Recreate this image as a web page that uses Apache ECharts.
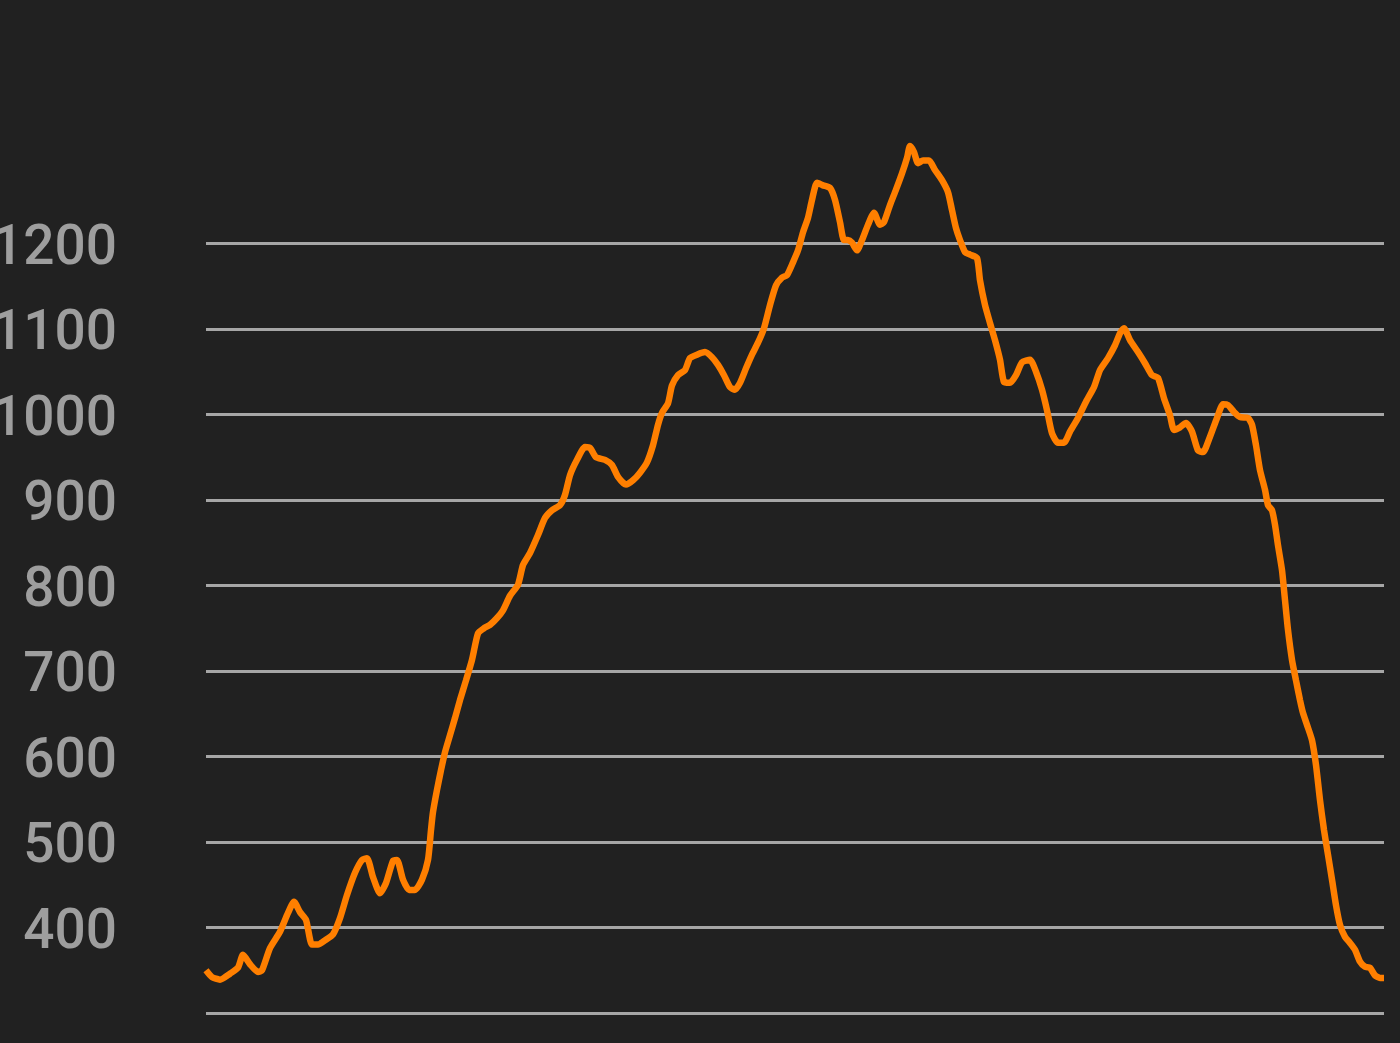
<!DOCTYPE html>
<html>
<head>
<meta charset="utf-8">
<script src="https://cdn.jsdelivr.net/npm/echarts@6/dist/echarts.min.js"></script>
<style>
html,body{margin:0;padding:0;background:#212121;}
#chart{width:1400px;height:1043px;}
</style>
</head>
<body>
<div id="chart"></div>
<script>
// positions along the track (horizontal offset units) and elevation values
const xs = [0,6,14,24,32,37,44,52,56,64,74,82,88,94,100,106,112,119,127,134,141,149,156,161,167,174,180,187,191,197,203,209,216,222,225,227,231,235,239,244,249,254,260,266,272,278,284,291,297,304,312,317,324,332,339,346,354,359,364,371,379,384,390,399,406,412,420,427,434,441,447,452,456,462,466,472,479,484,491,499,506,512,518,524,529,534,540,546,552,558,564,570,576,581,587,592,597,602,606,611,617,624,629,634,638,642,646,651,656,662,668,674,678,684,690,696,701,704,708,712,717,723,729,736,742,746,750,754,759,764,771,774,779,784,789,794,798,804,810,816,824,830,836,841,846,852,858,864,872,880,888,894,902,909,914,918,924,932,939,946,952,958,964,968,974,980,986,992,997,1004,1011,1017,1022,1028,1034,1042,1046,1050,1054,1059,1062,1066,1069,1072,1076,1079,1082,1086,1090,1094,1097,1101,1106,1110,1114,1118,1122,1126,1130,1134,1139,1144,1149,1154,1159,1164,1169,1174,1178];
const elevation = [350,342,339,346,353,368,357,348,350,376,395,417,430,418,409,380,380,385,392,411,438,464,479,481,459,440,452,478,479,456,444,444,456,479,514,535,561,584,605,625,645,666,689,713,744,750,754,762,771,788,801,824,838,859,879,888,894,906,929,947,962,961,950,947,941,927,918,923,932,944,964,988,1002,1013,1034,1046,1052,1066,1070,1073,1067,1058,1046,1032,1029,1037,1054,1070,1084,1101,1128,1151,1160,1163,1178,1192,1213,1230,1251,1271,1268,1265,1251,1225,1204,1204,1201,1192,1204,1222,1236,1222,1225,1245,1263,1282,1300,1314,1307,1294,1297,1297,1286,1274,1260,1239,1218,1204,1190,1187,1183,1157,1128,1107,1087,1064,1038,1037,1046,1061,1064,1050,1029,1005,978,967,967,980,996,1015,1032,1052,1066,1081,1095,1101,1087,1073,1060,1046,1043,1019,999,982,985,990,980,958,956,974,996,1012,1011,1003,997,996,988,964,935,912,894,888,871,847,818,783,748,713,689,666,651,637,619,590,549,514,485,456,426,403,389,382,374,360,354,353,344,341,341];
const yTicks = [300,400,500,600,700,800,900,1000,1100,1200,1300];

const chart = echarts.init(document.getElementById('chart'));
chart.setOption({
  backgroundColor: '#212121',
  animation: false,
  grid: {left: 206, right: 16, top: 158, bottom: 30, containLabel: false, outerBoundsMode: 'none'},
  xAxis: {
    type: 'value', min: xs[0], max: xs[xs.length-1], show: false
  },
  yAxis: {
    type: 'value',
    min: yTicks[0], max: yTicks[yTicks.length-1], interval: 100,
    axisLine: {show: false}, axisTick: {show: false},
    axisLabel: {
      color: '#9e9e9e', fontSize: 55, fontWeight: 500, fontFamily: 'Roboto', margin: 89,
      showMinLabel: false, showMaxLabel: false,
      formatter: v => '{t|' + v + '}',
      rich: {t: {color: '#9e9e9e', fontSize: 55, fontWeight: 500, fontFamily: 'Roboto', padding: [13, 0, 0, 0]}}
    },
    splitLine: {show: true, showMaxLine: false, lineStyle: {color: '#a6a6a6', width: 3}}
  },
  series: [{
    type: 'line',
    data: xs.map((x, i) => [x, elevation[i]]),
    showSymbol: false,
    clip: false,
    smooth: 0.2,
    lineStyle: {color: '#ff7f00', width: 6.5},
    itemStyle: {color: '#ff7f00'}
  }]
});
</script>
</body>
</html>
